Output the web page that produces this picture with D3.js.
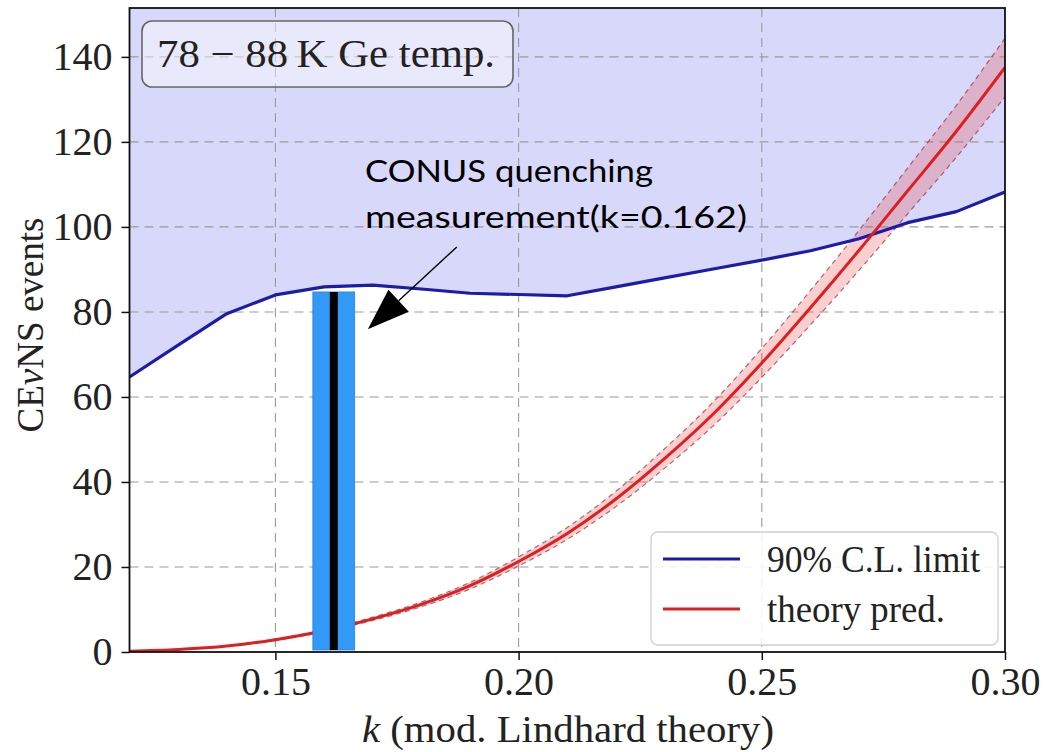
<!DOCTYPE html>
<html>
<head>
<meta charset="utf-8">
<script src="https://cdn.jsdelivr.net/npm/d3@7"></script>
<style>
  body { margin: 0; background: #fff; }
  svg { display: block; }
</style>
</head>
<body>
<svg id="chart" width="1048" height="752"></svg>
<script>
// Quenching parameter k (modified Lindhard theory)
const kValues = [0.12, 0.13, 0.14, 0.15, 0.16, 0.17, 0.18, 0.19, 0.20, 0.21,
                 0.22, 0.23, 0.24, 0.25, 0.26, 0.27, 0.28, 0.29, 0.30];
// 90% C.L. upper limit on CEvNS events
const limitEvents = [64.7, 72.2, 79.6, 84.0, 85.9, 86.3, 85.4, 84.4, 84.1, 83.8,
                     85.9, 88.0, 90.1, 92.2, 94.4, 97.2, 101.0, 103.6, 108.2];
// Theory prediction and its uncertainty band
const theoryEvents = [0.2, 0.6, 1.4, 2.9, 5.0, 7.8, 11.2, 15.6, 21.3, 27.9,
                      36.0, 45.5, 56.0, 68.0, 81.0, 94.5, 108.5, 122.5, 137.5];
const theoryUpper = [0.21, 0.63, 1.47, 3.05, 5.25, 8.19, 11.76, 16.38, 22.37, 29.3,
                     37.8, 47.8, 58.8, 71.4, 85.05, 99.2, 113.9, 128.6, 144.4];
const theoryLower = [0.19, 0.57, 1.33, 2.76, 4.75, 7.41, 10.64, 14.82, 20.24, 26.5,
                     34.2, 43.2, 53.2, 64.6, 76.95, 89.8, 103.1, 116.4, 130.6];

const xTicks = [0.15, 0.20, 0.25, 0.30];
const yTicks = [0, 20, 40, 60, 80, 100, 120, 140];
const xDomain = [0.12, 0.30];
const yDomain = [0, 151.5];

// CONUS quenching measurement
const quenchK = 0.162;
const quenchHalfWidth = 0.0043;
const quenchTop = 84.7;

const seriesLabels = ["90% C.L. limit", "theory pred."];
const boxLabel = "78 \u2212 88\u2009K Ge temp.";

const svg = d3.select("#chart");
const plotLeft = 129.5, plotRight = 1005, plotTop = 8, plotBottom = 652;

const x = d3.scaleLinear().domain(xDomain).range([plotLeft, plotRight]);
const y = d3.scaleLinear().domain(yDomain).range([plotBottom, plotTop]);

const rows = kValues.map((k, i) => ({
  k, limit: limitEvents[i], th: theoryEvents[i], hi: theoryUpper[i], lo: theoryLower[i]
}));

svg.append("defs").append("clipPath").attr("id", "plot-clip")
  .append("rect").attr("x", plotLeft).attr("y", plotTop)
  .attr("width", plotRight - plotLeft).attr("height", plotBottom - plotTop);

const plot = svg.append("g").attr("clip-path", "url(#plot-clip)");

// excluded region above the limit
plot.append("path")
  .datum(rows)
  .attr("fill", "rgb(216,216,250)")
  .attr("d", d3.area().x(d => x(d.k)).y0(y(yDomain[1])).y1(d => y(d.limit)));

// dashed grid
const grid = plot.append("g")
  .attr("stroke", "#9a9a9a").attr("stroke-width", 1.1)
  .attr("stroke-dasharray", "9,6").attr("fill", "none");
grid.selectAll("line.h").data(yTicks.filter(v => v > 0)).join("line")
  .attr("class", "h")
  .attr("x1", plotLeft).attr("x2", plotRight)
  .attr("y1", d => y(d)).attr("y2", d => y(d));
grid.selectAll("line.v").data(xTicks.filter(v => v < xDomain[1])).join("line")
  .attr("class", "v")
  .attr("y1", plotTop).attr("y2", plotBottom)
  .attr("x1", d => x(d)).attr("x2", d => x(d));

// theory band
plot.append("path").datum(rows)
  .attr("fill", "rgba(232,70,70,0.26)")
  .attr("d", d3.area().curve(d3.curveMonotoneX)
    .x(d => x(d.k)).y0(d => y(d.lo)).y1(d => y(d.hi)));
["hi", "lo"].forEach(key => {
  plot.append("path").datum(rows)
    .attr("fill", "none").attr("stroke", "rgba(150,45,60,0.7)")
    .attr("stroke-width", 1.2).attr("stroke-dasharray", "5,4")
    .attr("d", d3.line().curve(d3.curveMonotoneX).x(d => x(d.k)).y(d => y(d[key])));
});

// limit line
plot.append("path").datum(rows)
  .attr("fill", "none").attr("stroke", "#1c1ca8").attr("stroke-width", 3.2)
  .attr("stroke-linejoin", "round")
  .attr("d", d3.line().x(d => x(d.k)).y(d => y(d.limit)));

// theory line
plot.append("path").datum(rows)
  .attr("fill", "none").attr("stroke", "#dd1f22").attr("stroke-width", 3)
  .attr("d", d3.line().curve(d3.curveMonotoneX).x(d => x(d.k)).y(d => y(d.th)));

// axes
const serif = "'Liberation Serif', 'DejaVu Serif', serif";
const xAxis = svg.append("g").attr("transform", `translate(0,${plotBottom})`)
  .call(d3.axisBottom(x).tickValues(xTicks).tickFormat(d3.format(".2f"))
    .tickSize(8).tickSizeOuter(0).tickPadding(7));
const yAxis = svg.append("g").attr("transform", `translate(${plotLeft},0)`)
  .call(d3.axisLeft(y).tickValues(yTicks).tickFormat(d3.format("d"))
    .tickSize(8).tickSizeOuter(0).tickPadding(9));
[xAxis, yAxis].forEach(a => {
  a.select(".domain").remove();
  a.selectAll(".tick line").attr("stroke", "#111").attr("stroke-width", 1.5);
  a.selectAll(".tick text").attr("font-family", serif).attr("font-size", 40)
    .attr("fill", "#222");
});

// frame
svg.append("rect").attr("x", plotLeft).attr("y", plotTop)
  .attr("width", plotRight - plotLeft).attr("height", plotBottom - plotTop)
  .attr("fill", "none").attr("stroke", "#111").attr("stroke-width", 1.8);

// axis titles
const xt = svg.append("text").attr("x", 568).attr("y", 742)
  .attr("text-anchor", "middle").attr("font-family", serif).attr("font-size", 38)
  .attr("fill", "#222").attr("textLength", 412).attr("lengthAdjust", "spacingAndGlyphs");
xt.append("tspan").attr("font-style", "italic").text("k");
xt.append("tspan").text(" (mod. Lindhard theory)");

const yt = svg.append("text")
  .attr("transform", "translate(43,325) rotate(-90)")
  .attr("text-anchor", "middle").attr("font-family", serif).attr("font-size", 38)
  .attr("fill", "#222").attr("textLength", 215).attr("lengthAdjust", "spacingAndGlyphs");
yt.append("tspan").text("CE");
yt.append("tspan").attr("font-style", "italic").text("\u03bd");
yt.append("tspan").text("NS events");

// temperature label box
svg.append("rect").attr("x", 142).attr("y", 21).attr("width", 371).attr("height", 66)
  .attr("rx", 10).attr("ry", 10)
  .attr("fill", "rgba(255,255,255,0.45)").attr("stroke", "#666").attr("stroke-width", 1.6);
svg.append("text").attr("x", 157).attr("y", 67)
  .attr("font-family", serif).attr("font-size", 39).attr("fill", "#222")
  .attr("textLength", 338).attr("lengthAdjust", "spacingAndGlyphs")
  .text(boxLabel);

// legend
const legend = svg.append("g");
legend.append("rect").attr("x", 651).attr("y", 532).attr("width", 347).attr("height", 113)
  .attr("rx", 7).attr("ry", 7)
  .attr("fill", "rgba(255,255,255,0.85)").attr("stroke", "#d0d0d0").attr("stroke-width", 1.3);
const legendColors = ["#1c1ca8", "#dd1f22"];
const legendWidths = [213, 178];
seriesLabels.forEach((label, i) => {
  const ly = 559 + i * 50;
  legend.append("line").attr("x1", 663).attr("x2", 740).attr("y1", ly).attr("y2", ly)
    .attr("stroke", legendColors[i]).attr("stroke-width", 3);
  legend.append("text").attr("x", 767).attr("y", ly + 13)
    .attr("font-family", serif).attr("font-size", 38).attr("fill", "#222")
    .attr("textLength", legendWidths[i]).attr("lengthAdjust", "spacingAndGlyphs")
    .text(label);
});

// measurement bar
svg.append("rect")
  .attr("x", x(quenchK - quenchHalfWidth)).attr("y", y(quenchTop))
  .attr("width", x(quenchK + quenchHalfWidth) - x(quenchK - quenchHalfWidth))
  .attr("height", y(0) - y(quenchTop) - 2)
  .attr("fill", "#3399f7").attr("stroke", "#2a7fd6").attr("stroke-width", 0.8);
svg.append("line")
  .attr("x1", x(quenchK)).attr("x2", x(quenchK))
  .attr("y1", y(quenchTop)).attr("y2", y(0) - 2)
  .attr("stroke", "#000").attr("stroke-width", 8);

// annotation
const sans = "Lato, 'Open Sans', sans-serif";
const noteLines = ["CONUS quenching", "measurement(k=0.162)"];
const noteWidths = [288, 382];
noteLines.forEach((t, i) => {
  svg.append("text").attr("x", 365).attr("y", 182 + i * 46)
    .attr("font-family", sans).attr("font-size", 31).attr("fill", "#000")
    .attr("textLength", noteWidths[i]).attr("lengthAdjust", "spacingAndGlyphs")
    .text(t);
});

const tail = [x(0.1873), y(95.3)];
const tip = [x(0.1690), y(75.9)];
const dx = tip[0] - tail[0], dy = tip[1] - tail[1];
const len = Math.hypot(dx, dy);
const ux = dx / len, uy = dy / len;
const headLen = 42, headHalf = 15;
const base = [tip[0] - ux * headLen, tip[1] - uy * headLen];
svg.append("line").attr("x1", tail[0]).attr("y1", tail[1])
  .attr("x2", base[0]).attr("y2", base[1])
  .attr("stroke", "#000").attr("stroke-width", 1.4);
svg.append("polygon")
  .attr("points", [
    tip,
    [base[0] - uy * headHalf, base[1] + ux * headHalf],
    [base[0] + uy * headHalf, base[1] - ux * headHalf]
  ].map(p => p.join(",")).join(" "))
  .attr("fill", "#000");
</script>
</body>
</html>
